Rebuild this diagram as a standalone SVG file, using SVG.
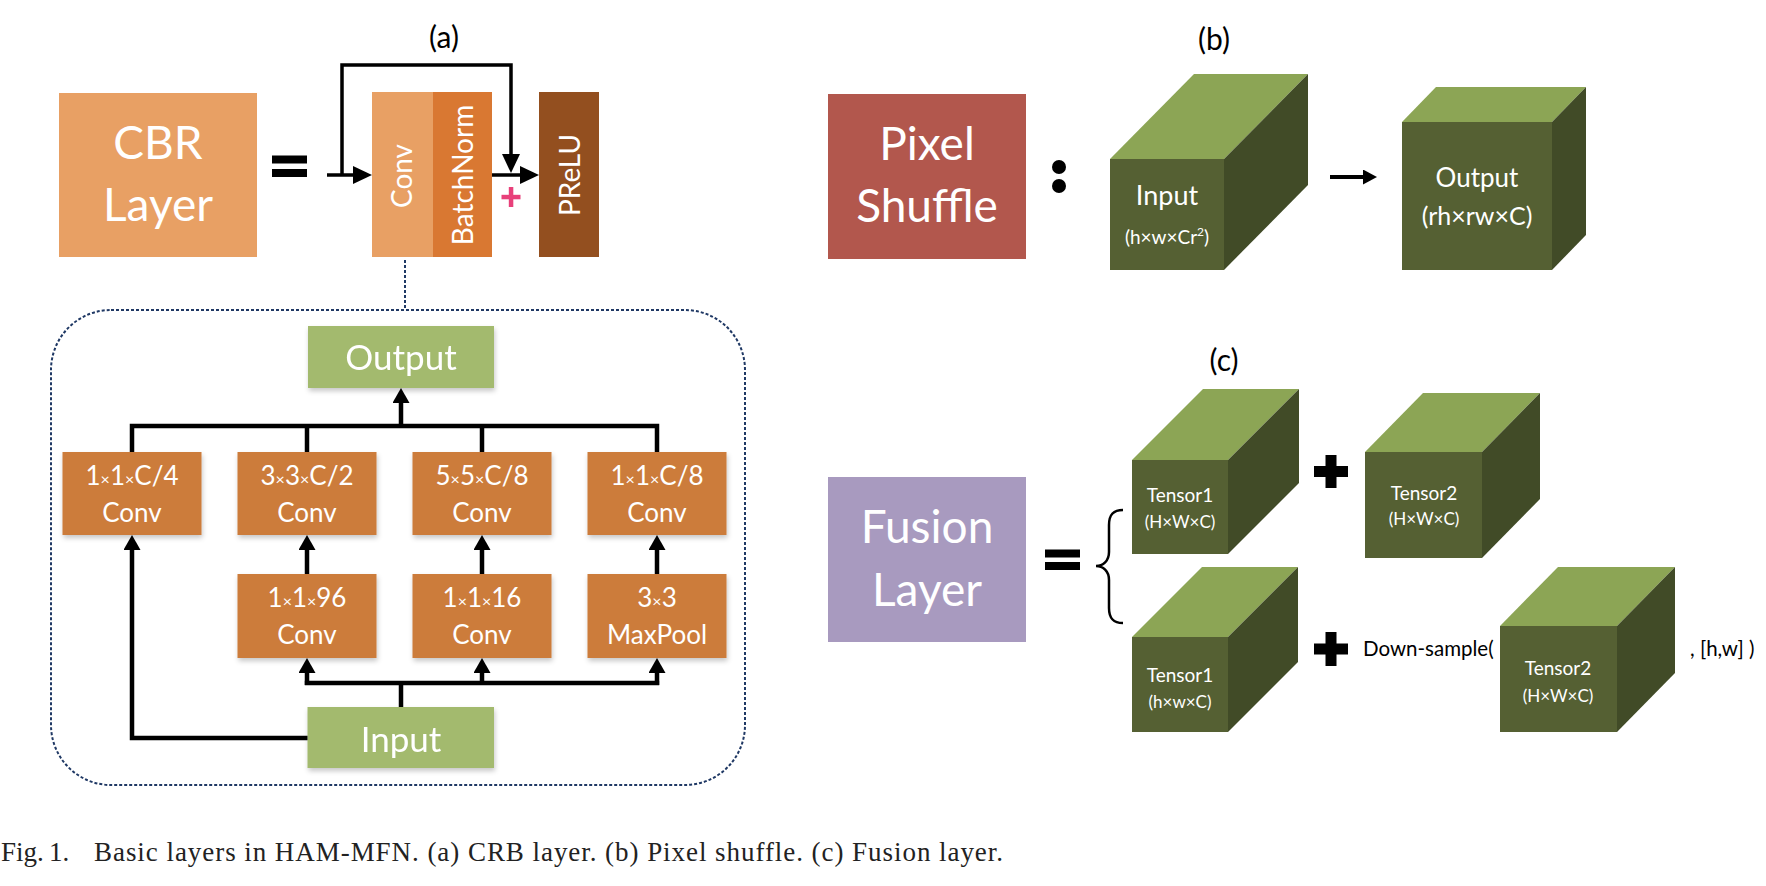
<svg xmlns="http://www.w3.org/2000/svg" width="1766" height="886" viewBox="0 0 1766 886">
<style>
text{font-family:Lato,"Open Sans","Liberation Sans",sans-serif;fill:#fff}
.w{fill:#fff}
.k{fill:#000}
.c{text-anchor:middle}
.big{font-size:46px}
.lbl{font-size:30px;fill:#000;text-anchor:middle}
.box{font-size:26px;text-anchor:middle}
.sx{font-size:16px}
.io{font-size:35px;text-anchor:middle}
.vt{font-size:28px;text-anchor:middle}
.ln{fill:none;stroke:#000;stroke-width:4.5}
.lt{fill:none;stroke:#000;stroke-width:3.5}
.dash{fill:none;stroke:#1F3864;stroke-width:2;stroke-dasharray:3 2}
.conv{fill:#CC7B3B}
.grn{fill:#A3BA6E}
.cf{fill:#556033}
.ct{fill:#8CA555}
.cs{fill:#414B27}
.t1{font-size:19px;text-anchor:middle}
.t2{font-size:17px;text-anchor:middle}
.cap{font-family:"Liberation Serif","Times New Roman",serif;font-size:27px;fill:#222}
</style>
<defs>
<marker id="ahL" markerUnits="userSpaceOnUse" markerWidth="16" markerHeight="18" refX="0" refY="8.5" orient="auto">
<path d="M0,0 L15,8.5 L0,17 z" fill="#000"/>
</marker>
<marker id="ahT" markerUnits="userSpaceOnUse" markerWidth="20" markerHeight="19" refX="0" refY="9" orient="auto">
<path d="M0,0 L19,9 L0,18 z" fill="#000"/>
</marker>
<marker id="ahB" markerUnits="userSpaceOnUse" markerWidth="15" markerHeight="16" refX="0" refY="7.5" orient="auto">
<path d="M0,0 L14,7.5 L0,15 z" fill="#000"/>
</marker>
<filter id="sh" x="-10%" y="-10%" width="125%" height="130%">
<feDropShadow dx="1" dy="3" stdDeviation="2.5" flood-color="#000" flood-opacity="0.22"/>
</filter>
</defs>

<!-- titles -->
<text class="lbl" x="444" y="48">(a)</text>
<text class="lbl" x="1214" y="50">(b)</text>
<text class="lbl" x="1224" y="371">(c)</text>

<!-- (a) top -->
<g id="cbr">
<rect x="59" y="93" width="198" height="164" fill="#E8A064"/>
<text class="big c" x="158" y="159">CBR</text>
<text class="big c" x="158" y="221">Layer</text>
</g>
<g id="eq-a">
<rect x="272" y="155.5" width="35" height="8" fill="#000"/>
<rect x="272" y="169" width="35" height="8" fill="#000"/>
</g>
<g id="conv-top">
<rect x="372" y="92" width="61" height="165" fill="#E8A064"/>
<text class="vt" transform="translate(411.5,176) rotate(-90)">Conv</text>
</g>
<g id="batchnorm">
<rect x="433" y="92" width="59" height="165" fill="#D97832"/>
<text class="vt" transform="translate(473,175) rotate(-90)">BatchNorm</text>
</g>
<g id="prelu">
<rect x="539" y="92" width="60" height="165" fill="#934F1F"/>
<text class="vt" transform="translate(580,175) rotate(-90)">PReLU</text>
</g>
<g id="plus-pink">
<rect x="501.5" y="194.8" width="19" height="4.5" fill="#E8407A"/>
<rect x="508.8" y="187" width="4.5" height="20" fill="#E8407A"/>
</g>

<!-- (a) bottom -->
<rect x="51" y="310" width="694" height="475" rx="60" ry="60" class="dash"/>
<g id="out-a" filter="url(#sh)">
<rect x="308" y="326" width="186" height="62" class="grn"/>
<text class="io" x="401" y="370">Output</text>
</g>
<g id="c1">
<rect x="62.5" y="452" width="139" height="83" class="conv" filter="url(#sh)"/>
<text class="box" x="132" y="485">1<tspan class="sx">×</tspan>1<tspan class="sx">×</tspan>C/4</text>
<text class="box" x="132" y="521.5">Conv</text>
</g>
<g id="c2">
<rect x="237.5" y="452" width="139" height="83" class="conv" filter="url(#sh)"/>
<text class="box" x="307" y="485">3<tspan class="sx">×</tspan>3<tspan class="sx">×</tspan>C/2</text>
<text class="box" x="307" y="521.5">Conv</text>
</g>
<g id="c3">
<rect x="412.5" y="452" width="139" height="83" class="conv" filter="url(#sh)"/>
<text class="box" x="482" y="485">5<tspan class="sx">×</tspan>5<tspan class="sx">×</tspan>C/8</text>
<text class="box" x="482" y="521.5">Conv</text>
</g>
<g id="c4">
<rect x="587.5" y="452" width="139" height="83" class="conv" filter="url(#sh)"/>
<text class="box" x="657" y="485">1<tspan class="sx">×</tspan>1<tspan class="sx">×</tspan>C/8</text>
<text class="box" x="657" y="521.5">Conv</text>
</g>
<g id="c5">
<rect x="237.5" y="574" width="139" height="84" class="conv" filter="url(#sh)"/>
<text class="box" x="307" y="607">1<tspan class="sx">×</tspan>1<tspan class="sx">×</tspan>96</text>
<text class="box" x="307" y="643.5">Conv</text>
</g>
<g id="c6">
<rect x="412.5" y="574" width="139" height="84" class="conv" filter="url(#sh)"/>
<text class="box" x="482" y="607">1<tspan class="sx">×</tspan>1<tspan class="sx">×</tspan>16</text>
<text class="box" x="482" y="643.5">Conv</text>
</g>
<g id="c7">
<rect x="587.5" y="574" width="139" height="84" class="conv" filter="url(#sh)"/>
<text class="box" x="657" y="607">3<tspan class="sx">×</tspan>3</text>
<text class="box" x="657" y="643.5">MaxPool</text>
</g>
<g id="in-a" filter="url(#sh)">
<rect x="307.5" y="707" width="186.5" height="61" class="grn"/>
<text class="io" x="401" y="752">Input</text>
</g>

<!-- (b) -->
<g id="pixelshuffle">
<rect x="828" y="94" width="198" height="165" fill="#B2574D"/>
<text class="big c" x="927" y="160">Pixel</text>
<text class="big c" x="927" y="222">Shuffle</text>
</g>
<g id="colon">
<circle cx="1059" cy="167" r="7" fill="#000"/>
<circle cx="1059" cy="186" r="7" fill="#000"/>
</g>
<g id="cube-in">
<polygon class="ct" points="1110,159 1194,74 1308,74 1224,159"/>
<polygon class="cs" points="1224,159 1308,74 1308,185 1224,270"/>
<rect class="cf" x="1110" y="159" width="114" height="111"/>
<text x="1167" y="205" font-size="27" class="c">Input</text>
<text x="1167" y="244" font-size="19" class="c">(h×w×Cr<tspan font-size="12" dy="-8">2</tspan><tspan dy="8">)</tspan></text>
</g>
<g id="cube-out">
<polygon class="ct" points="1402,122 1436,87 1586,87 1552,122"/>
<polygon class="cs" points="1552,122 1586,87 1586,235 1552,270"/>
<rect class="cf" x="1402" y="122" width="150" height="148"/>
<text x="1477" y="187" font-size="26" class="c">Output</text>
<text x="1477" y="225" font-size="25" class="c">(rh×rw×C)</text>
</g>

<!-- (c) -->
<g id="fusion">
<rect x="828" y="477" width="198" height="165" fill="#A89ABF"/>
<text class="big c" x="927" y="543">Fusion</text>
<text class="big c" x="927" y="606">Layer</text>
</g>
<g id="eq-c">
<rect x="1045" y="549.5" width="35" height="8" fill="#000"/>
<rect x="1045" y="562" width="35" height="8" fill="#000"/>
</g>
<path id="brace" d="M1123,510 C1113,510 1109,515 1109,525 L1109,552 C1109,561 1103,566 1096,566 C1103,566 1109,571 1109,580 L1109,608 C1109,618 1113,623 1123,623" fill="none" stroke="#000" stroke-width="2.5"/>
<g id="t1a">
<polygon class="ct" points="1132,460 1203,389 1299,389 1228,460"/>
<polygon class="cs" points="1228,460 1299,389 1299,483 1228,554"/>
<rect class="cf" x="1132" y="460" width="96" height="94"/>
<text class="t1" x="1180" y="501.5">Tensor1</text>
<text class="t2" x="1180" y="528">(H×W×C)</text>
</g>
<g id="plus1">
<rect x="1314" y="466" width="34" height="11" fill="#000"/>
<rect x="1325.5" y="455" width="11" height="33" fill="#000"/>
</g>
<g id="t2a">
<polygon class="ct" points="1365,452 1423,393 1540,393 1482,452"/>
<polygon class="cs" points="1482,452 1540,393 1540,499 1482,558"/>
<rect class="cf" x="1365" y="452" width="117" height="106"/>
<text class="t1" x="1424" y="500">Tensor2</text>
<text class="t2" x="1424" y="525">(H×W×C)</text>
</g>
<g id="t1b">
<polygon class="ct" points="1132,637 1202,567 1298,567 1228,637"/>
<polygon class="cs" points="1228,637 1298,567 1298,662 1228,732"/>
<rect class="cf" x="1132" y="637" width="96" height="95"/>
<text class="t1" x="1180" y="681.5">Tensor1</text>
<text class="t2" x="1180" y="708">(h×w×C)</text>
</g>
<g id="plus2">
<rect x="1314" y="643.5" width="34" height="11" fill="#000"/>
<rect x="1325.5" y="632" width="11" height="34" fill="#000"/>
</g>
<text x="1363" y="656" font-size="20.5" class="k">Down-sample(</text>
<g id="t2b">
<polygon class="ct" points="1500,626 1558,567 1675,567 1617,626"/>
<polygon class="cs" points="1617,626 1675,567 1675,673 1617,732"/>
<rect class="cf" x="1500" y="626" width="117" height="106"/>
<text class="t1" x="1558" y="675">Tensor2</text>
<text class="t2" x="1558" y="702">(H×W×C)</text>
</g>
<text x="1690" y="656" font-size="20.5" class="k">, [h,w] )</text>

<!-- connectors -->
<g id="connectors">
<polyline class="lt" points="327,175 353,175" marker-end="url(#ahT)"/>
<polyline class="lt" points="342,175 342,65 511,65 511,154" marker-end="url(#ahT)"/>
<polyline class="lt" points="492,175 520,175" marker-end="url(#ahT)"/>
<line class="dash" x1="405" y1="260" x2="405" y2="309"/>
<polyline class="ln" points="132,452 132,426 657,426 657,452"/>
<line class="ln" x1="307" y1="426" x2="307" y2="452"/>
<line class="ln" x1="482" y1="426" x2="482" y2="452"/>
<line class="ln" x1="401" y1="426" x2="401" y2="403" marker-end="url(#ahL)"/>
<line class="ln" x1="307" y1="574" x2="307" y2="550" marker-end="url(#ahL)"/>
<line class="ln" x1="482" y1="574" x2="482" y2="550" marker-end="url(#ahL)"/>
<line class="ln" x1="657" y1="574" x2="657" y2="550" marker-end="url(#ahL)"/>
<line class="ln" x1="401" y1="707" x2="401" y2="683"/>
<line class="ln" x1="304.8" y1="683" x2="659.2" y2="683"/>
<line class="ln" x1="307" y1="685" x2="307" y2="673" marker-end="url(#ahL)"/>
<line class="ln" x1="482" y1="685" x2="482" y2="673" marker-end="url(#ahL)"/>
<line class="ln" x1="657" y1="685" x2="657" y2="673" marker-end="url(#ahL)"/>
<polyline class="ln" points="307.5,738 132,738 132,550" marker-end="url(#ahL)"/>
<line x1="1330" y1="177" x2="1363" y2="177" stroke="#000" stroke-width="4" marker-end="url(#ahB)"/>
</g>

<!-- caption -->
<text class="cap" x="1" y="861">Fig.</text>
<text class="cap" x="49" y="861">1.</text>
<text class="cap" x="94" y="861" textLength="909" lengthAdjust="spacing">Basic layers in HAM-MFN. (a) CRB layer. (b) Pixel shuffle. (c) Fusion layer.</text>
</svg>
